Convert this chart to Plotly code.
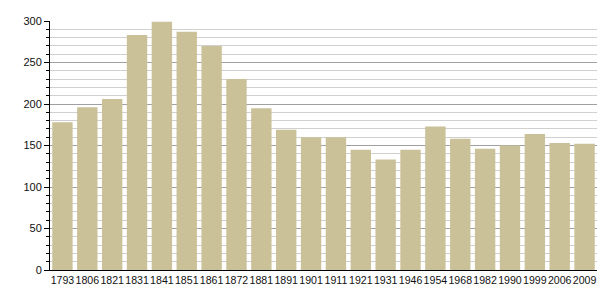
import plotly.graph_objects as go

years = ["1793", "1806", "1821", "1831", "1841", "1851", "1861", "1872", "1881", "1891", "1901",
         "1911", "1921", "1931", "1946", "1954", "1968", "1982", "1990", "1999", "2006", "2009"]
population = [178, 196, 206, 283, 299, 287, 270, 230, 195, 169, 160,
              160, 145, 133, 145, 173, 158, 146, 150, 164, 153, 152]

fig = go.Figure(go.Bar(
    x=years, y=population,
    marker=dict(color="#cbc198", line=dict(width=0)),
))

fig.update_layout(
    width=605, height=300,
    margin=dict(l=50, r=8, t=21, b=30),
    paper_bgcolor="white", plot_bgcolor="white",
    bargap=0.18,
    showlegend=False,
    font=dict(family="Liberation Sans, Arial, sans-serif", size=11, color="#111"),
)
fig.update_xaxes(
    type="category", tickangle=0, showgrid=False, ticks="",
    showline=True, linecolor="black", linewidth=1,
    tickfont=dict(size=10.6),
)
fig.update_yaxes(
    range=[0, 300], dtick=50, tick0=0,
    showgrid=True, gridcolor="#a0a0a0", gridwidth=1,
    ticks="outside", ticklen=5, tickcolor="black",
    showline=True, linecolor="black", linewidth=1,
    zeroline=False,
    minor=dict(dtick=10, showgrid=True, gridcolor="#d0d0d0", ticks="outside", ticklen=3, tickcolor="black"),
    tickfont=dict(size=11),
)

fig.write_html("out.html")
